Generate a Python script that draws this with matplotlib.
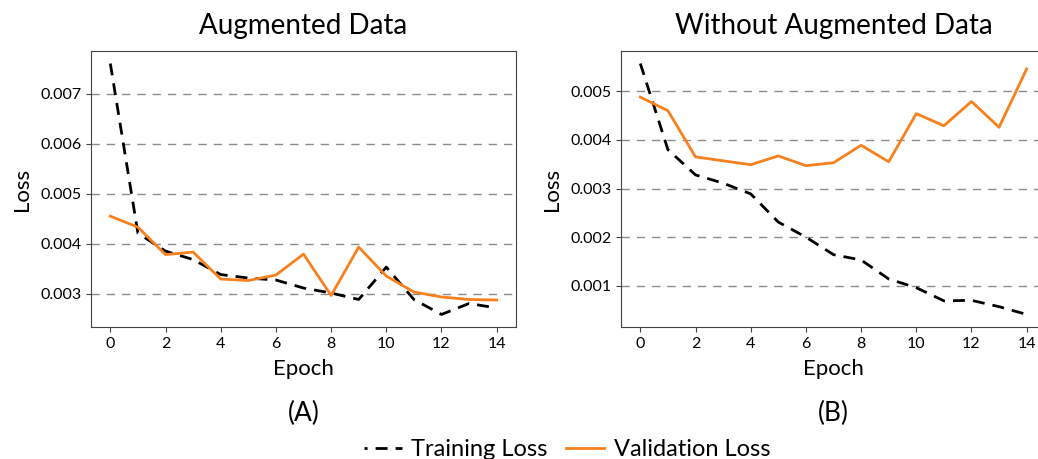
import numpy as np
import matplotlib
matplotlib.use("Agg")
import matplotlib.pyplot as plt
from matplotlib.lines import Line2D

plt.rcParams['font.family'] = ['Lato', 'DejaVu Sans']

# エポック
epochs = list(range(15))

# (A) 拡張データあり
aug_train = [0.00761, 0.00421, 0.00385, 0.00368, 0.00338, 0.00331, 0.00327, 0.00311,
             0.00301, 0.00288, 0.00353, 0.00288, 0.00258, 0.00280, 0.00271]
aug_val = [0.00455, 0.00433, 0.00378, 0.00383, 0.00329, 0.00326, 0.00337, 0.00379,
           0.00296, 0.00393, 0.00335, 0.00303, 0.00293, 0.00288, 0.00287]

# (B) 拡張データなし
noaug_train = [0.00557, 0.00380, 0.00328, 0.00311, 0.00289, 0.00231, 0.00200, 0.00164,
               0.00153, 0.00114, 0.00096, 0.00069, 0.00070, 0.00057, 0.00041]
noaug_val = [0.00488, 0.00460, 0.00365, 0.00357, 0.00349, 0.00367, 0.00347, 0.00353,
             0.00389, 0.00355, 0.00454, 0.00429, 0.00479, 0.00426, 0.00546]

titles = ["Augmented Data", "Without Augmented Data"]
panel_labels = ["(A)", "(B)"]
x_ticks = [0, 2, 4, 6, 8, 10, 12, 14]

orange = "#f7811f"
dash = (4.3, 2.9)

fig = plt.figure(figsize=(10.38, 4.59), dpi=100)
ax1 = fig.add_axes([91/1038, 1 - 327/459, 425/1038, 276/459])
ax2 = fig.add_axes([621/1038, 1 - 327/459, 425/1038, 276/459])

for ax, tr, va, title, lab in zip([ax1, ax2], [aug_train, noaug_train], [aug_val, noaug_val],
                                   titles, panel_labels):
    ax.plot(epochs, tr, color="black", linestyle=(0, dash), linewidth=2)
    ax.plot(epochs, va, color=orange, linewidth=2)
    ax.grid(axis="y", color="#8c8c8c", linestyle=(0, (6, 5)), linewidth=1)
    ax.set_axisbelow(True)
    ax.set_xticks(x_ticks)
    ax.tick_params(labelsize=11.5, color="#444444")
    for s in ax.spines.values():
        s.set_color("#444444")
    ax.set_title(title, fontsize=20, pad=12)
    ax.set_xlabel("Epoch", fontsize=16, labelpad=6)
    ax.set_ylabel("Loss", fontsize=16, labelpad=6)
    ax.text(0.5, -0.312, lab, transform=ax.transAxes, ha="center", va="center", fontsize=19)

# 凡例
handles = [Line2D([], [], color="black", linewidth=2, linestyle=(3.2, dash)),
           Line2D([], [], color=orange, linewidth=2)]
labels = ["Training Loss", "Validation Loss"]
fig.legend(handles, labels, loc="center", bbox_to_anchor=(567/1038, 1 - 450/459), ncol=2,
           frameon=False, fontsize=17, handlelength=1.6, handletextpad=0.4,
           columnspacing=0.8, borderpad=0)

plt.savefig("out.png", dpi=100)
